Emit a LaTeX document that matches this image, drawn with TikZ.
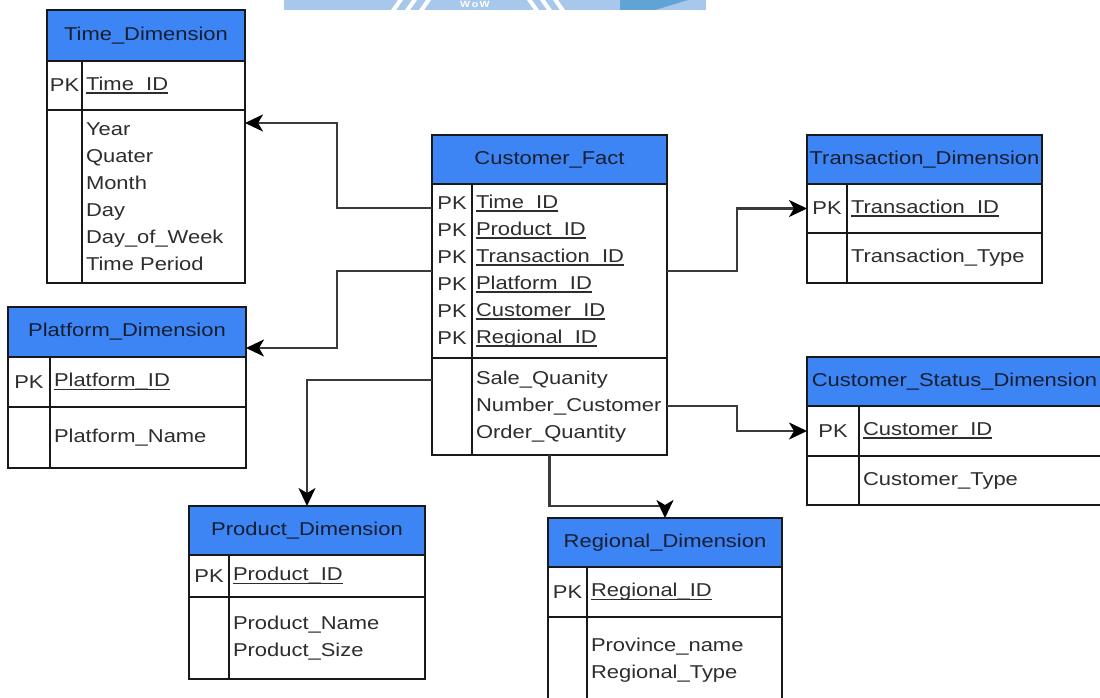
\documentclass[tikz,border=0pt]{standalone}
\usepackage{fontspec}
\setmainfont[FakeStretch=1.18]{Liberation Sans}
\usetikzlibrary{arrows.meta,calc}
\hyphenpenalty=10000
\exhyphenpenalty=10000

\definecolor{hdrblue}{RGB}{61,133,245}
\definecolor{hdrtxt}{RGB}{22,30,48}
\definecolor{bodytxt}{RGB}{45,45,45}
\definecolor{linkgray}{RGB}{58,58,58}
\definecolor{wmblue}{RGB}{167,200,234}
\definecolor{wmdark}{RGB}{98,163,214}

\newcommand\bodyfont{\fontsize{18.6}{27}\selectfont}
% underlined key field name
\newcommand\keyfld[1]{\leavevmode\setbox0\hbox{#1}\rlap{\rule[-3.2pt]{\wd0}{1.4pt}}\box0}

\tikzset{
  cell/.style={draw=black!90, line width=2pt, outer sep=0pt, inner sep=0pt,
               anchor=north west, font=\bodyfont, text=bodytxt},
  hdr/.style={cell, fill=hdrblue, text=hdrtxt, align=center},
  pkcell/.style={cell, align=center},
  fieldcell/.style={cell, align=left, inner xsep=4pt},
  link/.style={draw=linkgray, line width=2.4pt,
               -{Stealth[length=18pt,width=17pt,inset=5pt,black]}},
}

\begin{document}
\begin{tikzpicture}[x=1pt,y=-1pt]
\useasboundingbox (0,0) rectangle (1100,698);
\clip (0,0) rectangle (1100,698);
\fill[white] (0,0) rectangle (1100,698);

% logo strip along the top edge
\fill[wmblue] (284,0) rectangle (706,10);
\foreach \sx in {391,405,419}
  \fill[white] (\sx,10) -- (\sx+5,10) -- (\sx+12,0) -- (\sx+7,0) -- cycle;
\foreach \sx in {527,540,553}
  \fill[white] (\sx,0) -- (\sx+5,0) -- (\sx+12,10) -- (\sx+7,10) -- cycle;
\node[text=white, inner sep=0pt, font=\bfseries\fontsize{9}{9}\selectfont]
  (wm-text) at (475,4) {W\,o\,W};
\fill[wmdark] (620,0) -- (688,0) -- (655,10) -- (620,10) -- cycle;

% ---------- Time_Dimension ----------
\node[hdr, minimum width=198pt, minimum height=51pt] (time-h) at (47,10) {Time\_Dimension};
\node[pkcell, minimum width=35pt, minimum height=49pt] (time-kl) at (time-h.south west) {PK};
\node[fieldcell, text width=155pt, minimum height=49pt] (time-kr) at (time-kl.north east) {\keyfld{Time\_ID}};
\node[pkcell, minimum width=35pt, minimum height=173pt] (time-al) at (time-kl.south west) {};
\node[fieldcell, text width=155pt, minimum height=173pt] (time-ar) at (time-al.north east)
  {Year\\Quater\\Month\\Day\\Day\_of\_Week\\Time Period};

% ---------- Customer_Fact ----------
\node[hdr, minimum width=235pt, minimum height=49pt] (fact-h) at (432,135) {Customer\_Fact};
\node[pkcell, minimum width=40pt, minimum height=174pt] (fact-kl) at (fact-h.south west)
  {PK\\PK\\PK\\PK\\PK\\PK};
\node[fieldcell, text width=187pt, minimum height=174pt] (fact-kr) at (fact-kl.north east)
  {\keyfld{Time\_ID}\\\keyfld{Product\_ID}\\\keyfld{Transaction\_ID}\\\keyfld{Platform\_ID}\\\keyfld{Customer\_ID}\\\keyfld{Regional\_ID}};
\node[pkcell, minimum width=40pt, minimum height=97pt] (fact-al) at (fact-kl.south west) {};
\node[fieldcell, text width=187pt, minimum height=97pt] (fact-ar) at (fact-al.north east)
  {Sale\_Quanity\\Number\_Customer\\Order\_Quantity};

% ---------- Transaction_Dimension ----------
\node[hdr, minimum width=235pt, minimum height=49pt] (transaction-h) at (807,135) {Transaction\_Dimension};
\node[pkcell, minimum width=40pt, minimum height=49pt] (transaction-kl) at (transaction-h.south west) {PK};
\node[fieldcell, text width=187pt, minimum height=49pt] (transaction-kr) at (transaction-kl.north east) {\keyfld{Transaction\_ID}};
\node[pkcell, minimum width=40pt, minimum height=50pt] (transaction-al) at (transaction-kl.south west) {};
\node[fieldcell, text width=187pt, minimum height=50pt] (transaction-ar) at (transaction-al.north east) {Transaction\_Type};

% ---------- Platform_Dimension ----------
\node[hdr, minimum width=238pt, minimum height=50pt] (platform-h) at (8,307) {Platform\_Dimension};
\node[pkcell, minimum width=42pt, minimum height=50pt] (platform-kl) at (platform-h.south west) {PK};
\node[fieldcell, text width=188pt, minimum height=50pt] (platform-kr) at (platform-kl.north east) {\keyfld{Platform\_ID}};
\node[pkcell, minimum width=42pt, minimum height=61pt] (platform-al) at (platform-kl.south west) {};
\node[fieldcell, text width=188pt, minimum height=61pt] (platform-ar) at (platform-al.north east) {Platform\_Name};

% ---------- Customer_Status_Dimension ----------
\node[hdr, minimum width=295pt, minimum height=49pt] (status-h) at (807,357) {Customer\_Status\_Dimension};
\node[pkcell, minimum width=52pt, minimum height=50pt] (status-kl) at (status-h.south west) {PK};
\node[fieldcell, text width=235pt, minimum height=50pt] (status-kr) at (status-kl.north east) {\keyfld{Customer\_ID}};
\node[pkcell, minimum width=52pt, minimum height=49pt] (status-al) at (status-kl.south west) {};
\node[fieldcell, text width=235pt, minimum height=49pt] (status-ar) at (status-al.north east) {Customer\_Type};

% ---------- Product_Dimension ----------
\node[hdr, minimum width=236pt, minimum height=49pt] (product-h) at (189,506) {Product\_Dimension};
\node[pkcell, minimum width=40pt, minimum height=42pt] (product-kl) at (product-h.south west) {PK};
\node[fieldcell, text width=188pt, minimum height=42pt] (product-kr) at (product-kl.north east) {\keyfld{Product\_ID}};
\node[pkcell, minimum width=40pt, minimum height=82pt] (product-al) at (product-kl.south west) {};
\node[fieldcell, text width=188pt, minimum height=82pt] (product-ar) at (product-al.north east)
  {Product\_Name\\Product\_Size};

% ---------- Regional_Dimension ----------
\node[hdr, minimum width=234pt, minimum height=49pt] (regional-h) at (548,518) {Regional\_Dimension};
\node[pkcell, minimum width=39pt, minimum height=50pt] (regional-kl) at (regional-h.south west) {PK};
\node[fieldcell, text width=187pt, minimum height=50pt] (regional-kr) at (regional-kl.north east) {\keyfld{Regional\_ID}};
\node[pkcell, minimum width=39pt, minimum height=87pt] (regional-al) at (regional-kl.south west) {};
\node[fieldcell, text width=187pt, minimum height=87pt] (regional-ar) at (regional-al.north east)
  {Province\_name\\Regional\_Type};

% ---------- relationships ----------
\draw[link] ([yshift=-24pt]fact-kl.north west) -- ++(-95,0) |- ([yshift=-13pt]time-ar.north east);
\draw[link] ([yshift=-87pt]fact-kl.north west) -- ++(-95,0) |- ([yshift=-41pt]platform-h.north east);
\draw[link] ([yshift=-22pt]fact-al.north west) -| (product-h.north);
\draw[link] (fact-h.south |- fact-al.south) -- ++(0,51) -| (regional-h.north);
\draw[link] ([yshift=-87pt]fact-kr.north east) -- ++(70,0) |- (transaction-kl.west);
\draw[link] ([yshift=-48pt]fact-ar.north east) -- ++(70,0) |- (status-kl.west);
\end{tikzpicture}
\end{document}
